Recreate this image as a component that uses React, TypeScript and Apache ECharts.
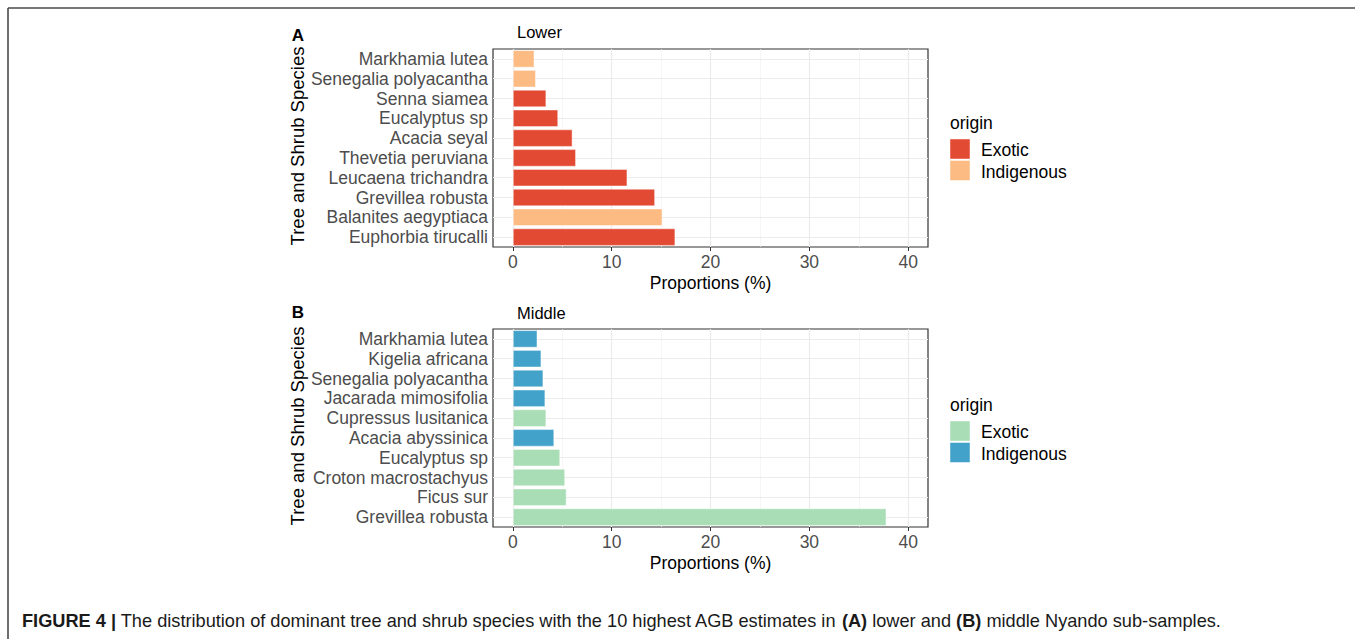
import React, { useEffect, useRef } from "react";
import * as echarts from "echarts";

const speciesA = [
  "Markhamia lutea",
  "Senegalia polyacantha",
  "Senna siamea",
  "Eucalyptus sp",
  "Acacia seyal",
  "Thevetia peruviana",
  "Leucaena trichandra",
  "Grevillea robusta",
  "Balanites aegyptiaca",
  "Euphorbia tirucalli",
];
const valuesA = [2.2, 2.35, 3.4, 4.6, 6.05, 6.4, 11.6, 14.4, 15.15, 16.45];
const originA = [
  "Indigenous", "Indigenous", "Exotic", "Exotic", "Exotic",
  "Exotic", "Exotic", "Exotic", "Indigenous", "Exotic",
];

const speciesB = [
  "Markhamia lutea",
  "Kigelia africana",
  "Senegalia polyacantha",
  "Jacarada mimosifolia",
  "Cupressus lusitanica",
  "Acacia abyssinica",
  "Eucalyptus sp",
  "Croton macrostachyus",
  "Ficus sur",
  "Grevillea robusta",
];
const valuesB = [2.5, 2.9, 3.1, 3.3, 3.4, 4.2, 4.8, 5.3, 5.45, 37.8];
const originB = [
  "Indigenous", "Indigenous", "Indigenous", "Indigenous", "Exotic",
  "Indigenous", "Exotic", "Exotic", "Exotic", "Exotic",
];

const originLevels = ["Exotic", "Indigenous"];
const colorsA = ["#E34A33", "#FDBB84"];
const colorsB = ["#A8DDB5", "#43A2CA"];
const xTicks = [0, 10, 20, 30, 40];
const xMinor = [5, 15, 25, 35];
const panelTitles = ["Lower", "Middle"];
const panelTags = ["A", "B"];
const yTitle = "Tree and Shrub Species";
const xTitle = "Proportions (%)";
const legendTitle = "origin";

const FONT = "'Liberation Sans', Arial, Helvetica, sans-serif";

export default function App() {
  const ref = useRef<HTMLDivElement>(null);

  useEffect(() => {
    if (!ref.current) return;
    const chart = echarts.init(ref.current, undefined, { renderer: "svg" });

    const panels = [
      { species: speciesA, values: valuesA, origin: originA, colors: colorsA, top: 49, tagY: 35, titleY: 32, legTop: 123 },
      { species: speciesB, values: valuesB, origin: originB, colors: colorsB, top: 329, tagY: 312, titleY: 313, legTop: 405 },
    ];
    const gridLeft = 493;
    const gridW = 435;
    const gridH = 198;

    const grids: any[] = [];
    const xAxes: any[] = [];
    const yAxes: any[] = [];
    const series: any[] = [];
    const graphics: any[] = [];

    panels.forEach((p, g) => {
      grids.push({
        left: gridLeft,
        top: p.top,
        width: gridW,
        height: gridH,
        show: true,
        borderColor: "#333333",
        borderWidth: 1.2,
        backgroundColor: "transparent",
        containLabel: false,
        outerBoundsMode: "none",
      });
      xAxes.push({
        gridIndex: g,
        type: "value",
        min: -2,
        max: 42,
        splitLine: { show: false },
        axisLine: { show: false },
        axisTick: {
          show: true,
          customValues: xTicks,
          length: 4,
          lineStyle: { color: "#333333", width: 1 },
        },
        axisLabel: {
          customValues: xTicks,
          color: "#4D4D4D",
          fontSize: 17.5,
          fontFamily: FONT,
          margin: 6,
        },
      });
      yAxes.push({
        gridIndex: g,
        type: "category",
        data: p.species,
        inverse: true,
        axisLine: { show: false },
        axisTick: {
          show: true,
          alignWithLabel: true,
          interval: 0,
          length: 4,
          lineStyle: { color: "#333333", width: 1 },
        },
        axisLabel: {
          interval: 0,
          hideOverlap: false,
          color: "#4D4D4D",
          fontSize: 17.5,
          fontFamily: FONT,
          margin: 5,
        },
        splitLine: { show: false },
      });

      const majorStyle = { color: "#EBEBEB", width: 1.2, type: "solid" };
      const minorStyle = { color: "#F2F2F2", width: 0.7, type: "solid" };
      const markData: any[] = [
        ...xMinor.map((v) => ({ xAxis: v, lineStyle: minorStyle })),
        ...xTicks.map((v) => ({ xAxis: v, lineStyle: majorStyle })),
        ...p.species.map((_, i) => ({ yAxis: i, lineStyle: majorStyle })),
      ];

      originLevels.forEach((lvl, k) => {
        series.push({
          type: "bar",
          name: lvl,
          xAxisIndex: g,
          yAxisIndex: g,
          stack: "panel" + g,
          barWidth: "89%",
          z: 3,
          itemStyle: {
            color: p.colors[k],
            borderColor: "rgba(255,255,255,0.45)",
            borderWidth: 1,
          },
          data: p.values.map((v, i) => (p.origin[i] === lvl ? v : "-")),
          markLine:
            k === 0
              ? {
                  silent: true,
                  z: 1,
                  symbol: ["none", "none"],
                  label: { show: false },
                  emphasis: { disabled: true },
                  data: markData,
                }
              : undefined,
        });
      });

      graphics.push({
        type: "text",
        x: 298,
        y: p.tagY,
        style: {
          text: panelTags[g],
          fontSize: 17,
          fontWeight: "bold",
          fontFamily: FONT,
          fill: "#000000",
          align: "center",
          verticalAlign: "middle",
        },
      });
      graphics.push({
        type: "text",
        x: 517,
        y: p.titleY,
        style: {
          text: panelTitles[g],
          fontSize: 16.5,
          fontFamily: FONT,
          fill: "#000000",
          align: "left",
          verticalAlign: "middle",
        },
      });
      graphics.push({
        type: "text",
        x: 297,
        y: p.top + gridH / 2 - 2,
        rotation: Math.PI / 2,
        style: {
          text: yTitle,
          fontSize: 18.5,
          fontFamily: FONT,
          fill: "#000000",
          align: "center",
          verticalAlign: "middle",
        },
      });
      graphics.push({
        type: "text",
        x: gridLeft + gridW / 2,
        y: p.top + gridH + 36,
        style: {
          text: xTitle,
          fontSize: 17.5,
          fontFamily: FONT,
          fill: "#000000",
          align: "center",
          verticalAlign: "middle",
        },
      });
      graphics.push({
        type: "text",
        x: 950,
        y: p.legTop,
        style: {
          text: legendTitle,
          fontSize: 17.5,
          fontFamily: FONT,
          fill: "#000000",
          align: "left",
          verticalAlign: "middle",
        },
      });
      originLevels.forEach((lvl, k) => {
        const ky = p.legTop + 16 + k * 21.5;
        graphics.push({
          type: "rect",
          shape: { x: 950, y: ky, width: 20, height: 20 },
          style: { fill: p.colors[k], stroke: "rgba(255,255,255,0.45)", lineWidth: 1 },
        });
        graphics.push({
          type: "text",
          x: 981,
          y: ky + 11,
          style: {
            text: lvl,
            fontSize: 17.5,
            fontFamily: FONT,
            fill: "#000000",
            align: "left",
            verticalAlign: "middle",
          },
        });
      });
    });

    graphics.push({
      type: "line",
      shape: { x1: 8, y1: 8, x2: 1355, y2: 8 },
      style: { stroke: "#4A4A4A", lineWidth: 1.6 },
    });
    graphics.push({
      type: "line",
      shape: { x1: 8, y1: 8, x2: 8, y2: 639 },
      style: { stroke: "#4A4A4A", lineWidth: 1.6 },
    });

    graphics.push({
      type: "text",
      x: 22,
      y: 621,
      style: {
        text:
          "{b|FIGURE 4 |} The distribution of dominant tree and shrub species with the 10 highest AGB estimates in {b|(A)} lower and {b|(B)} middle Nyando sub-samples.",
        fontSize: 18.2,
        fontFamily: FONT,
        fill: "#1A1A1A",
        align: "left",
        verticalAlign: "middle",
        rich: {
          b: { fontWeight: "bold", fontSize: 18.2, fontFamily: FONT, fill: "#1A1A1A" },
        },
      },
    });

    chart.setOption({
      animation: false,
      backgroundColor: "#FFFFFF",
      grid: grids,
      xAxis: xAxes,
      yAxis: yAxes,
      series,
      graphic: { elements: graphics },
    });

    return () => {
      chart.dispose();
    };
  }, []);

  return (
    <div
      ref={ref}
      style={{ position: "absolute", left: 0, top: 0, width: 1355, height: 639 }}
    />
  );
}
